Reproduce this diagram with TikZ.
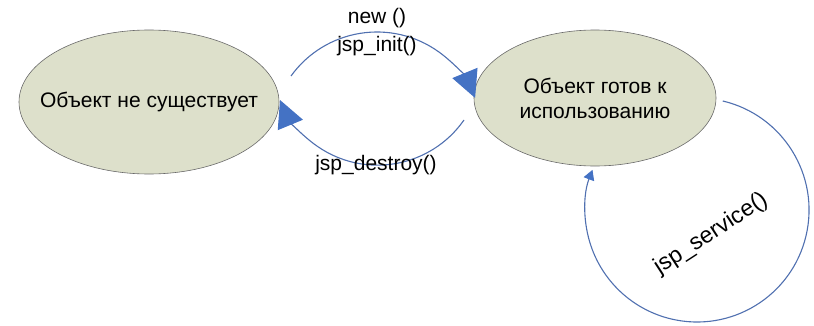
\documentclass[tikz,border=0pt]{standalone}
\usepackage{fontspec}
\setmainfont{Liberation Sans}
\usetikzlibrary{arrows.meta,shapes.geometric}
\definecolor{ellfill}{RGB}{221,224,203}
\definecolor{ellline}{RGB}{105,105,105}
\definecolor{arcblue}{RGB}{80,112,176}
\definecolor{tipblue}{RGB}{68,114,196}
\begin{document}
\begin{tikzpicture}[x=1pt,y=1pt,
  state/.style={ellipse, draw=ellline, line width=0.6pt, fill=ellfill, inner sep=0pt},
  trans/.style={draw=arcblue, line width=1.1pt},
  bigtip/.style={-{Triangle[length=27pt,width=27pt,fill=tipblue,color=tipblue]}},
  smalltip/.style={-{Triangle[length=10pt,width=11pt,fill=tipblue,color=tipblue]}},
  lbl/.style={inner sep=0pt, align=center, font=\fontsize{21}{25}\selectfont}]
\useasboundingbox (0,0) rectangle (814,325);
\node[state, minimum width=260pt, minimum height=144pt,
  label={[lbl]center:Объект не существует}] (ne) at (149,223) {};
\node[state, minimum width=242pt, minimum height=136pt,
  label={[lbl]center:Объект готов к\\использованию}] (ready) at (595,227) {};
\coordinate (u0) at (291,249);
\coordinate (l0) at (464,205);
\coordinate (s0) at (722.8,224);
\draw[trans,bigtip] (u0) arc[start angle=144.2, end angle=22.2, radius=106];
\draw[trans,bigtip] (l0) arc[start angle=-34.9, end angle=-157.5, radius=105.5];
\draw[trans,smalltip] (s0) arc[start angle=76.7, end angle=-201, radius=112];
\node[lbl] (lnew) at (377,307) {new ()};
\node[lbl] (linit) at (377,279) {jsp\_init()};
\node[lbl] (ldes) at (376,160) {jsp\_destroy()};
\node[lbl, rotate=33, font=\fontsize{23}{27}\selectfont] (lsvc) at (711,91) {jsp\_service()};
\end{tikzpicture}
\end{document}
